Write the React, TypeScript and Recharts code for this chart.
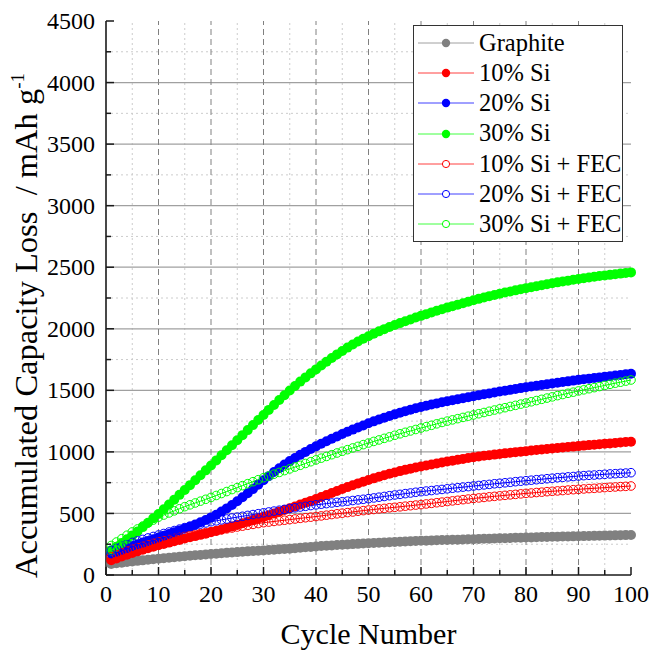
import { CartesianGrid, Legend, Line, LineChart, ReferenceLine, XAxis, YAxis } from "recharts";

const FONT = "'Liberation Serif', 'Times New Roman', serif";

const cycles = [
  1, 2, 3, 4, 5, 6, 7, 8, 9, 10, 11, 12, 13, 14, 15, 16, 17, 18, 19, 20,
  21, 22, 23, 24, 25, 26, 27, 28, 29, 30, 31, 32, 33, 34, 35, 36, 37, 38, 39, 40,
  41, 42, 43, 44, 45, 46, 47, 48, 49, 50, 51, 52, 53, 54, 55, 56, 57, 58, 59, 60,
  61, 62, 63, 64, 65, 66, 67, 68, 69, 70, 71, 72, 73, 74, 75, 76, 77, 78, 79, 80,
  81, 82, 83, 84, 85, 86, 87, 88, 89, 90, 91, 92, 93, 94, 95, 96, 97, 98, 99, 100,
];

const graphite = [
  90, 95, 100, 105, 110, 115, 119, 124, 128, 132, 136, 140, 144, 148, 152, 156, 160, 163, 167, 170,
  173, 176, 180, 183, 186, 189, 192, 195, 197, 200, 203, 206, 209, 211, 214, 218, 221, 225, 228, 232,
  235, 238, 240, 243, 246, 248, 251, 253, 256, 258, 260, 262, 264, 266, 268, 270, 272, 274, 276, 278,
  279, 281, 282, 284, 285, 286, 287, 289, 290, 291, 292, 294, 295, 297, 298, 299, 300, 302, 303, 304,
  305, 306, 308, 309, 310, 311, 312, 313, 314, 315, 316, 317, 318, 319, 320, 321, 322, 323, 324, 325,
];

const si10 = [
  120, 135, 150, 165, 179, 192, 205, 217, 229, 241, 252, 263, 274, 285, 296, 306, 316, 326, 336, 347,
  358, 370, 382, 394, 407, 420, 433, 446, 459, 472, 486, 500, 514, 528, 542, 557, 572, 587, 602, 618,
  634, 650, 666, 682, 698, 714, 729, 744, 758, 772, 785, 798, 810, 822, 833, 844, 854, 864, 873, 882,
  890, 898, 906, 914, 922, 929, 936, 943, 950, 956, 962, 968, 973, 978, 983, 988, 993, 998, 1002, 1006,
  1011, 1015, 1019, 1023, 1027, 1031, 1035, 1039, 1043, 1047, 1051, 1055, 1058, 1062, 1066, 1069, 1073, 1076, 1080, 1083,
];

const si20 = [
  175, 190, 205, 220, 235, 249, 263, 277, 291, 305, 319, 333, 347, 362, 377, 393, 410, 428, 447, 468,
  490, 515, 541, 569, 599, 631, 664, 699, 734, 769, 803, 836, 867, 897, 925, 951, 976, 1000, 1023, 1045,
  1066, 1087, 1107, 1126, 1145, 1163, 1181, 1198, 1215, 1232, 1248, 1263, 1278, 1292, 1305, 1318, 1331, 1343, 1354, 1365,
  1375, 1385, 1394, 1403, 1412, 1420, 1428, 1436, 1444, 1452, 1460, 1468, 1475, 1483, 1490, 1497, 1504, 1511, 1518, 1525,
  1531, 1537, 1543, 1549, 1555, 1561, 1567, 1573, 1579, 1585, 1590, 1595, 1600, 1605, 1610, 1615, 1620, 1625, 1630, 1635,
];

const si30 = [
  200, 230, 260, 290, 320, 354, 389, 424, 460, 495, 534, 573, 612, 651, 690, 730, 770, 810, 850, 890,
  931, 972, 1013, 1054, 1095, 1136, 1177, 1218, 1259, 1300, 1341, 1381, 1421, 1460, 1498, 1535, 1571, 1605, 1638, 1670,
  1702, 1733, 1763, 1792, 1820, 1847, 1872, 1896, 1919, 1940, 1960, 1979, 1997, 2014, 2030, 2046, 2061, 2076, 2091, 2105,
  2119, 2133, 2146, 2159, 2172, 2184, 2196, 2208, 2220, 2232, 2243, 2254, 2265, 2275, 2285, 2294, 2303, 2312, 2321, 2330,
  2338, 2346, 2354, 2362, 2370, 2377, 2384, 2391, 2398, 2405, 2411, 2417, 2422, 2428, 2433, 2438, 2443, 2448, 2453, 2458,
];

const si10Fec = [
  150, 165, 180, 195, 210, 222, 234, 246, 258, 270, 279, 288, 297, 306, 315, 322, 330, 337, 345, 352,
  360, 367, 375, 382, 390, 397, 404, 411, 418, 425, 430, 435, 440, 445, 450, 455, 460, 465, 470, 475,
  480, 486, 491, 497, 502, 507, 512, 518, 523, 528, 532, 537, 541, 546, 550, 554, 559, 563, 568, 572,
  577, 582, 587, 592, 597, 602, 607, 612, 617, 622, 626, 630, 635, 639, 643, 647, 651, 655, 659, 663,
  666, 670, 673, 677, 680, 683, 686, 690, 693, 696, 699, 702, 704, 707, 710, 713, 715, 718, 720, 723,
];

const si20Fec = [
  200, 216, 233, 249, 265, 277, 289, 301, 313, 325, 337, 349, 361, 373, 385, 395, 404, 414, 423, 433,
  440, 448, 455, 463, 470, 477, 484, 491, 498, 505, 512, 519, 526, 533, 540, 546, 552, 558, 564, 570,
  575, 580, 585, 590, 595, 600, 605, 610, 615, 620, 626, 632, 638, 644, 650, 655, 661, 666, 672, 677,
  682, 686, 691, 695, 700, 705, 709, 714, 718, 723, 727, 732, 736, 741, 745, 749, 753, 758, 762, 766,
  770, 774, 778, 782, 786, 790, 793, 797, 800, 804, 807, 810, 812, 815, 818, 821, 823, 826, 828, 831,
];

const si30Fec = [
  240, 268, 295, 323, 350, 374, 398, 422, 446, 470, 487, 504, 521, 538, 555, 570, 585, 600, 615, 630,
  646, 662, 678, 694, 710, 726, 742, 758, 774, 790, 804, 819, 833, 848, 862, 877, 891, 906, 920, 935,
  949, 963, 977, 991, 1005, 1018, 1032, 1045, 1059, 1072, 1085, 1097, 1110, 1122, 1135, 1147, 1159, 1170, 1182, 1194,
  1205, 1216, 1228, 1239, 1250, 1260, 1270, 1280, 1290, 1300, 1310, 1320, 1330, 1340, 1350, 1359, 1369, 1378, 1388, 1397,
  1407, 1417, 1427, 1437, 1447, 1457, 1466, 1476, 1485, 1495, 1504, 1513, 1522, 1531, 1540, 1549, 1558, 1566, 1575, 1584,
];

const xTicks = [0, 5, 10, 15, 20, 25, 30, 35, 40, 45, 50, 55, 60, 65, 70, 75, 80, 85, 90, 95, 100];
const yTicks = [
  0, 250, 500, 750, 1000, 1250, 1500, 1750, 2000, 2250, 2500, 2750, 3000, 3250, 3500, 3750, 4000, 4250, 4500,
];
const xMajorGrid = [10, 20, 30, 40, 50, 60, 70, 80, 90];
const xMinorGrid = [5, 15, 25, 35, 45, 55, 65, 75, 85, 95];
const yMajorGrid = [500, 1000, 1500, 2000, 2500, 3000, 3500, 4000];
const yMinorGrid = [250, 750, 1250, 1750, 2250, 2750, 3250, 3750, 4250];

const SERIES = [
  { key: "graphite", name: "Graphite", color: "#808080", open: false, values: graphite },
  { key: "si10", name: "10% Si", color: "#ff0000", open: false, values: si10 },
  { key: "si20", name: "20% Si", color: "#0000ff", open: false, values: si20 },
  { key: "si30", name: "30% Si", color: "#00ff00", open: false, values: si30 },
  { key: "si10Fec", name: "10% Si + FEC", color: "#ff0000", open: true, values: si10Fec },
  { key: "si20Fec", name: "20% Si + FEC", color: "#0000ff", open: true, values: si20Fec },
  { key: "si30Fec", name: "30% Si + FEC", color: "#00ff00", open: true, values: si30Fec },
];

const rows = cycles.map((cycle, i) => {
  const row: Record<string, number> = { cycle };
  SERIES.forEach((s) => {
    row[s.key] = s.values[i];
  });
  return row;
});

const AXIS = "#1a1a1a";
const TICK_FONT = 24;
const GAP = 11;

function BottomTick({ x, y, payload }: any) {
  const v = Number(payload.value);
  const len = v % 10 === 0 ? 8 : 5;
  return (
    <g>
      <line x1={x} x2={x} y1={y - GAP} y2={y - GAP - len} stroke={AXIS} strokeWidth={1.5} />
      {v % 10 === 0 && (
        <text x={x} y={y} dy="0.68em" textAnchor="middle" fill="#000" fontSize={TICK_FONT} fontFamily={FONT}>
          {v}
        </text>
      )}
    </g>
  );
}

function LeftTick({ x, y, payload }: any) {
  const v = Number(payload.value);
  const len = v % 500 === 0 ? 8 : 5;
  return (
    <g>
      <line x1={x + GAP} x2={x + GAP + len} y1={y} y2={y} stroke={AXIS} strokeWidth={1.5} />
      {v % 500 === 0 && (
        <text x={x} y={y} dy="0.34em" textAnchor="end" fill="#000" fontSize={TICK_FONT} fontFamily={FONT}>
          {v}
        </text>
      )}
    </g>
  );
}

function TopTick({ x, y, payload }: any) {
  const len = Number(payload.value) % 10 === 0 ? 8 : 5;
  return <line x1={x} x2={x} y1={y} y2={y + len} stroke={AXIS} strokeWidth={1.5} />;
}

function RightTick({ x, y, payload }: any) {
  const len = Number(payload.value) % 500 === 0 ? 8 : 5;
  return <line x1={x} x2={x - len} y1={y} y2={y} stroke={AXIS} strokeWidth={1.5} />;
}

function XTitle({ viewBox }: any) {
  return (
    <text
      x={viewBox.x + viewBox.width / 2}
      y={viewBox.y + 69}
      textAnchor="middle"
      fill="#000"
      fontSize={30}
      fontFamily={FONT}
    >
      Cycle Number
    </text>
  );
}

function YTitle({ viewBox }: any) {
  const bx = viewBox.x - 9;
  const by = viewBox.y + viewBox.height + 3;
  return (
    <text
      x={bx}
      y={by}
      transform={`rotate(-90, ${bx}, ${by})`}
      textAnchor="start"
      fill="#000"
      fontSize={32.5}
      fontFamily={FONT}
      style={{ whiteSpace: "pre" }}
    >
      {"Accumulated Capacity Loss  / mAh g"}
      <tspan dy={-13} fontSize={19}>
        -1
      </tspan>
    </text>
  );
}

function LegendBox() {
  return (
    <div
      style={{
        width: 210,
        height: 217,
        boxSizing: "border-box",
        border: "1px solid #333",
        background: "#fff",
        paddingTop: 2,
        fontFamily: FONT,
        fontSize: 24.5,
        color: "#000",
      }}
    >
      {SERIES.map((s) => (
        <div key={s.key} style={{ display: "flex", alignItems: "center", height: 30.2 }}>
          <svg width={62} height={14} style={{ flex: "none", marginLeft: 3 }}>
            <line x1={1} x2={57} y1={7} y2={7} stroke={s.color} strokeWidth={1} strokeOpacity={0.75} />
            {s.open ? (
              <circle cx={29} cy={7} r={3.6} fill="#fff" stroke={s.color} strokeWidth={1} />
            ) : (
              <circle cx={29} cy={7} r={4.2} fill={s.color} />
            )}
          </svg>
          <span style={{ whiteSpace: "nowrap", lineHeight: 1 }}>{s.name}</span>
        </div>
      ))}
    </div>
  );
}

export default function App() {
  return (
    <div style={{ width: 652, height: 652, background: "#fff" }}>
      <style>{"body{margin:0}"}</style>
      <LineChart width={652} height={652} data={rows} margin={{ top: 21, right: 21, bottom: 37, left: 46 }}>
        <CartesianGrid stroke="none" />
        {yMinorGrid.map((v) => (
          <ReferenceLine key={`ym${v}`} y={v} stroke="#cccccc" strokeDasharray="2 3" />
        ))}
        {xMinorGrid.map((v) => (
          <ReferenceLine key={`xm${v}`} x={v} stroke="#cccccc" strokeDasharray="2 3" />
        ))}
        {yMajorGrid.map((v) => (
          <ReferenceLine key={`yM${v}`} y={v} stroke="#a0a0a0" strokeWidth={1.3} />
        ))}
        {xMajorGrid.map((v) => (
          <ReferenceLine key={`xM${v}`} x={v} stroke="#808080" strokeDasharray="6 4" />
        ))}
        <XAxis
          dataKey="cycle"
          type="number"
          domain={[0, 100]}
          ticks={xTicks}
          interval={0}
          height={40}
          tickSize={0}
          tickMargin={GAP}
          tickLine={false}
          axisLine={{ stroke: AXIS, strokeWidth: 1.6 }}
          tick={<BottomTick />}
          label={<XTitle />}
        />
        <XAxis
          xAxisId="top"
          orientation="top"
          type="number"
          domain={[0, 100]}
          ticks={xTicks}
          interval={0}
          height={0}
          tickSize={0}
          tickMargin={0}
          tickLine={false}
          axisLine={{ stroke: AXIS, strokeWidth: 1.6 }}
          tick={<TopTick />}
        />
        <YAxis
          type="number"
          domain={[0, 4500]}
          ticks={yTicks}
          interval={0}
          width={60}
          tickSize={0}
          tickMargin={GAP}
          tickLine={false}
          axisLine={{ stroke: AXIS, strokeWidth: 1.6 }}
          tick={<LeftTick />}
          label={<YTitle />}
        />
        <YAxis
          yAxisId="right"
          orientation="right"
          type="number"
          domain={[0, 4500]}
          ticks={yTicks}
          interval={0}
          width={0}
          tickSize={0}
          tickMargin={0}
          tickLine={false}
          axisLine={{ stroke: AXIS, strokeWidth: 1.6 }}
          tick={<RightTick />}
        />
        {SERIES.map((s) => (
          <Line
            key={s.key}
            dataKey={s.key}
            name={s.name}
            type="linear"
            stroke={s.color}
            strokeWidth={1}
            dot={
              s.open
                ? { r: 4.3, fill: "none", stroke: s.color, strokeWidth: 1 }
                : { r: 5, fill: s.color, stroke: s.color, strokeWidth: 0 }
            }
            activeDot={false}
            isAnimationActive={false}
          />
        ))}
        <Legend
          layout="vertical"
          align="center"
          verticalAlign="middle"
          content={<LegendBox />}
          wrapperStyle={{ top: 25, left: 413, width: 210, height: 217 }}
        />
      </LineChart>
    </div>
  );
}
